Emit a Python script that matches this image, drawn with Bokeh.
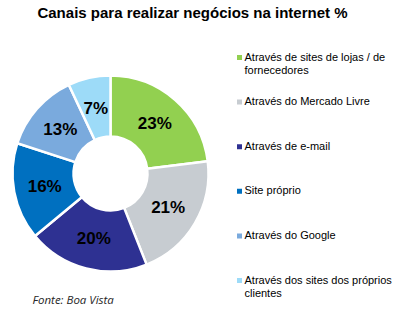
import math
from bokeh.plotting import figure
from bokeh.models import Range1d, ColumnDataSource
from bokeh.core.properties import value
from bokeh.embed import file_html
from bokeh.resources import INLINE

categories = [
    "Através de sites de lojas / de\nfornecedores",
    "Através do Mercado Livre",
    "Através de e-mail",
    "Site próprio",
    "Através do Google",
    "Através dos sites dos próprios\nclientes",
]
values = [23, 21, 20, 16, 13, 7]
colors = ["#92D050", "#C7CCD1", "#2E3192", "#0070C0", "#7AAADD", "#9DDBF8"]
title_text = "Canais para realizar negócios na internet %"
source_text = "Fonte: Boa Vista"

W, H = 400, 321
p = figure(width=W, height=H, output_backend="svg", toolbar_location=None,
           x_range=Range1d(0, W), y_range=Range1d(0, H), min_border=0)
p.axis.visible = False
p.grid.visible = False
p.outline_line_color = None
p.background_fill_color = "white"
p.border_fill_color = "white"

cx, cy = 110, H - 173
r_out, r_in = 98, 37

total = sum(values)
starts, ends, mids = [], [], []
acc = 0.0
for v in values:
    a0 = math.pi / 2 - 2 * math.pi * acc / total
    acc += v
    a1 = math.pi / 2 - 2 * math.pi * acc / total
    starts.append(a0)
    ends.append(a1)
    mids.append((a0 + a1) / 2)

src = ColumnDataSource(dict(start=starts, end=ends, color=colors,
                            lx=[cx + 67 * math.cos(m) for m in mids],
                            ly=[cy + 67 * math.sin(m) for m in mids],
                            lab=[f"{v}%" for v in values]))
p.annular_wedge(x=cx, y=cy, inner_radius=r_in, outer_radius=r_out,
                start_angle="start", end_angle="end", direction="clock",
                fill_color="color", line_color="white", line_width=2.5, source=src)
p.text(x="lx", y="ly", text="lab", source=src, text_align="center",
       text_baseline="middle", text_font=value("Liberation Sans"),
       text_font_style="bold", text_font_size="17px", text_color="black")

# legend
ly0 = 57
pitch = 44.6
leg = ColumnDataSource(dict(
    sx=[239] * len(categories),
    sy=[H - (ly0 + i * pitch) for i in range(len(categories))],
    ty=[H - (ly0 + i * pitch) + 7 for i in range(len(categories))],
    tx=[244] * len(categories),
    lab=categories, color=colors))
p.rect(x="sx", y="sy", width=5, height=5, fill_color="color", line_color=None, source=leg)
p.text(x="tx", y="ty", text="lab", source=leg, text_align="left", text_baseline="top",
       text_font=value("Liberation Sans"), text_font_size="11px", text_color="black",
       text_line_height=1.15)

# title
p.text(x=[W / 2 - 8], y=[H - 12], text=[title_text], text_align="center", text_baseline="middle",
       text_font=value("Liberation Sans"), text_font_style="bold", text_font_size="15px",
       text_color="black")
# source
p.text(x=[32], y=[H - 299], text=[source_text], text_align="left", text_baseline="middle",
       text_font=value("Open Sans"), text_font_style="italic", text_font_size="11.5px",
       text_color="#262626")

open("out.html", "w").write(file_html(p, INLINE))
